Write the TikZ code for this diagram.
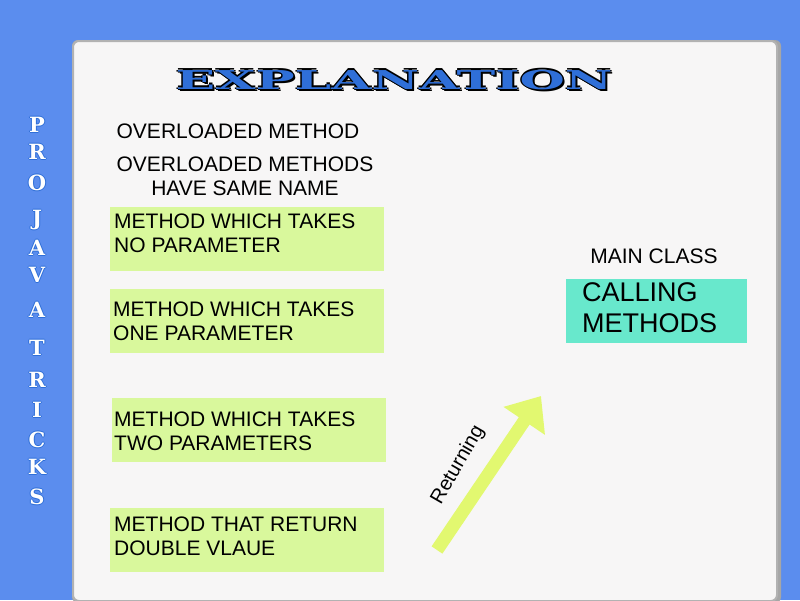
\documentclass[tikz,border=0pt]{standalone}
\usepackage{fontspec}
\setmainfont{Liberation Sans}
\newfontfamily\titlefont{DejaVu Serif}
\usetikzlibrary{arrows.meta}
\definecolor{bgblue}{HTML}{5B8DEE}
\definecolor{panel}{HTML}{F7F6F6}
\definecolor{lgreen}{HTML}{D9F89C}
\definecolor{lcyan}{HTML}{68E8CC}
\definecolor{arrowg}{HTML}{E2F870}
\definecolor{tblue}{HTML}{2F6FD8}
\tikzset{
  gbox/.style={fill=lgreen, draw=none, anchor=north west, minimum width=274pt, minimum height=64pt},
  btxt/.style={font=\fontsize{21}{24}\selectfont, align=left, anchor=north west, inner sep=0pt},
  lettr/.style={font=\titlefont\bfseries\fontsize{21}{21}\selectfont, text=white},
  ttl/.style={font=\titlefont\bfseries\fontsize{26}{26}\selectfont, xscale=2.0},
}
\begin{document}
\begin{tikzpicture}[x=1pt,y=-1pt]
\useasboundingbox (0,0) rectangle (800,600);
\fill[bgblue] (0,0) rectangle (800,600);
\fill[black!35, rounded corners=6pt] (72,40) rectangle (781,603);
\draw[rounded corners=6pt, draw=gray!60, line width=2pt, fill=panel] (73,41) rectangle (777,601);
% title
\foreach \dx/\dy in {-1.5/0,1.5/0,0/-1.5,0/1.5,2/2.5}{
  \node[ttl, text=black] at (394+\dx,80+\dy) {EXPLANATION};}
\node (title) [ttl, text=tblue] at (394,80) {EXPLANATION};
% side letters
\foreach \l/\y [count=\i] in {P/125,R/152,O/183,J/220,A/248,V/275,A/310,T/348,R/380,I/410,C/440,K/467,S/497}{
  \foreach \dx/\dy in {-1/0,1/0,0/-1,0/1}{\node[lettr,text=tblue] at (37+\dx,\y+\dy) {\l};}
  \node (s\i) [lettr] at (37,\y) {\l};}
% texts
\node (ov) [font=\fontsize{21}{24}\selectfont] at (238,131) {OVERLOADED METHOD};
\node (ovs) [font=\fontsize{21}{24}\selectfont, align=center] at (245,176) {OVERLOADED METHODS\\HAVE SAME NAME};
\node (b1) [gbox] at (110,207) {};
\node [btxt] at (114,214) {METHOD WHICH TAKES\\NO PARAMETER};
\node (b2) [gbox] at (110,289) {};
\node [btxt] at (113,302) {METHOD WHICH TAKES\\ONE PARAMETER};
\node (b3) [gbox] at (112,398) {};
\node [btxt] at (114,412) {METHOD WHICH TAKES\\TWO PARAMETERS};
\node (b4) [gbox] at (110,508) {};
\node [btxt] at (114,517) {METHOD THAT RETURN\\DOUBLE VLAUE};
\node (mc) [font=\fontsize{21}{24}\selectfont] at (654,256) {MAIN CLASS};
\node (cm) [fill=lcyan, anchor=north west, minimum width=181pt, minimum height=64pt] at (566,279) {};
\node [font=\fontsize{27}{31}\selectfont, align=left, anchor=north west, inner sep=0pt] at (582,282) {CALLING\\METHODS};
% arrow
\coordinate (as) at (437,550);
\coordinate (ae) at (541,396);
\draw[arrowg, line width=13pt, -{Triangle[length=30pt,width=48pt]}] (as) -- (ae);
\node (ret) [font=\fontsize{20}{23}\selectfont, rotate=60] at (458,465) {Returning};
\end{tikzpicture}
\end{document}
